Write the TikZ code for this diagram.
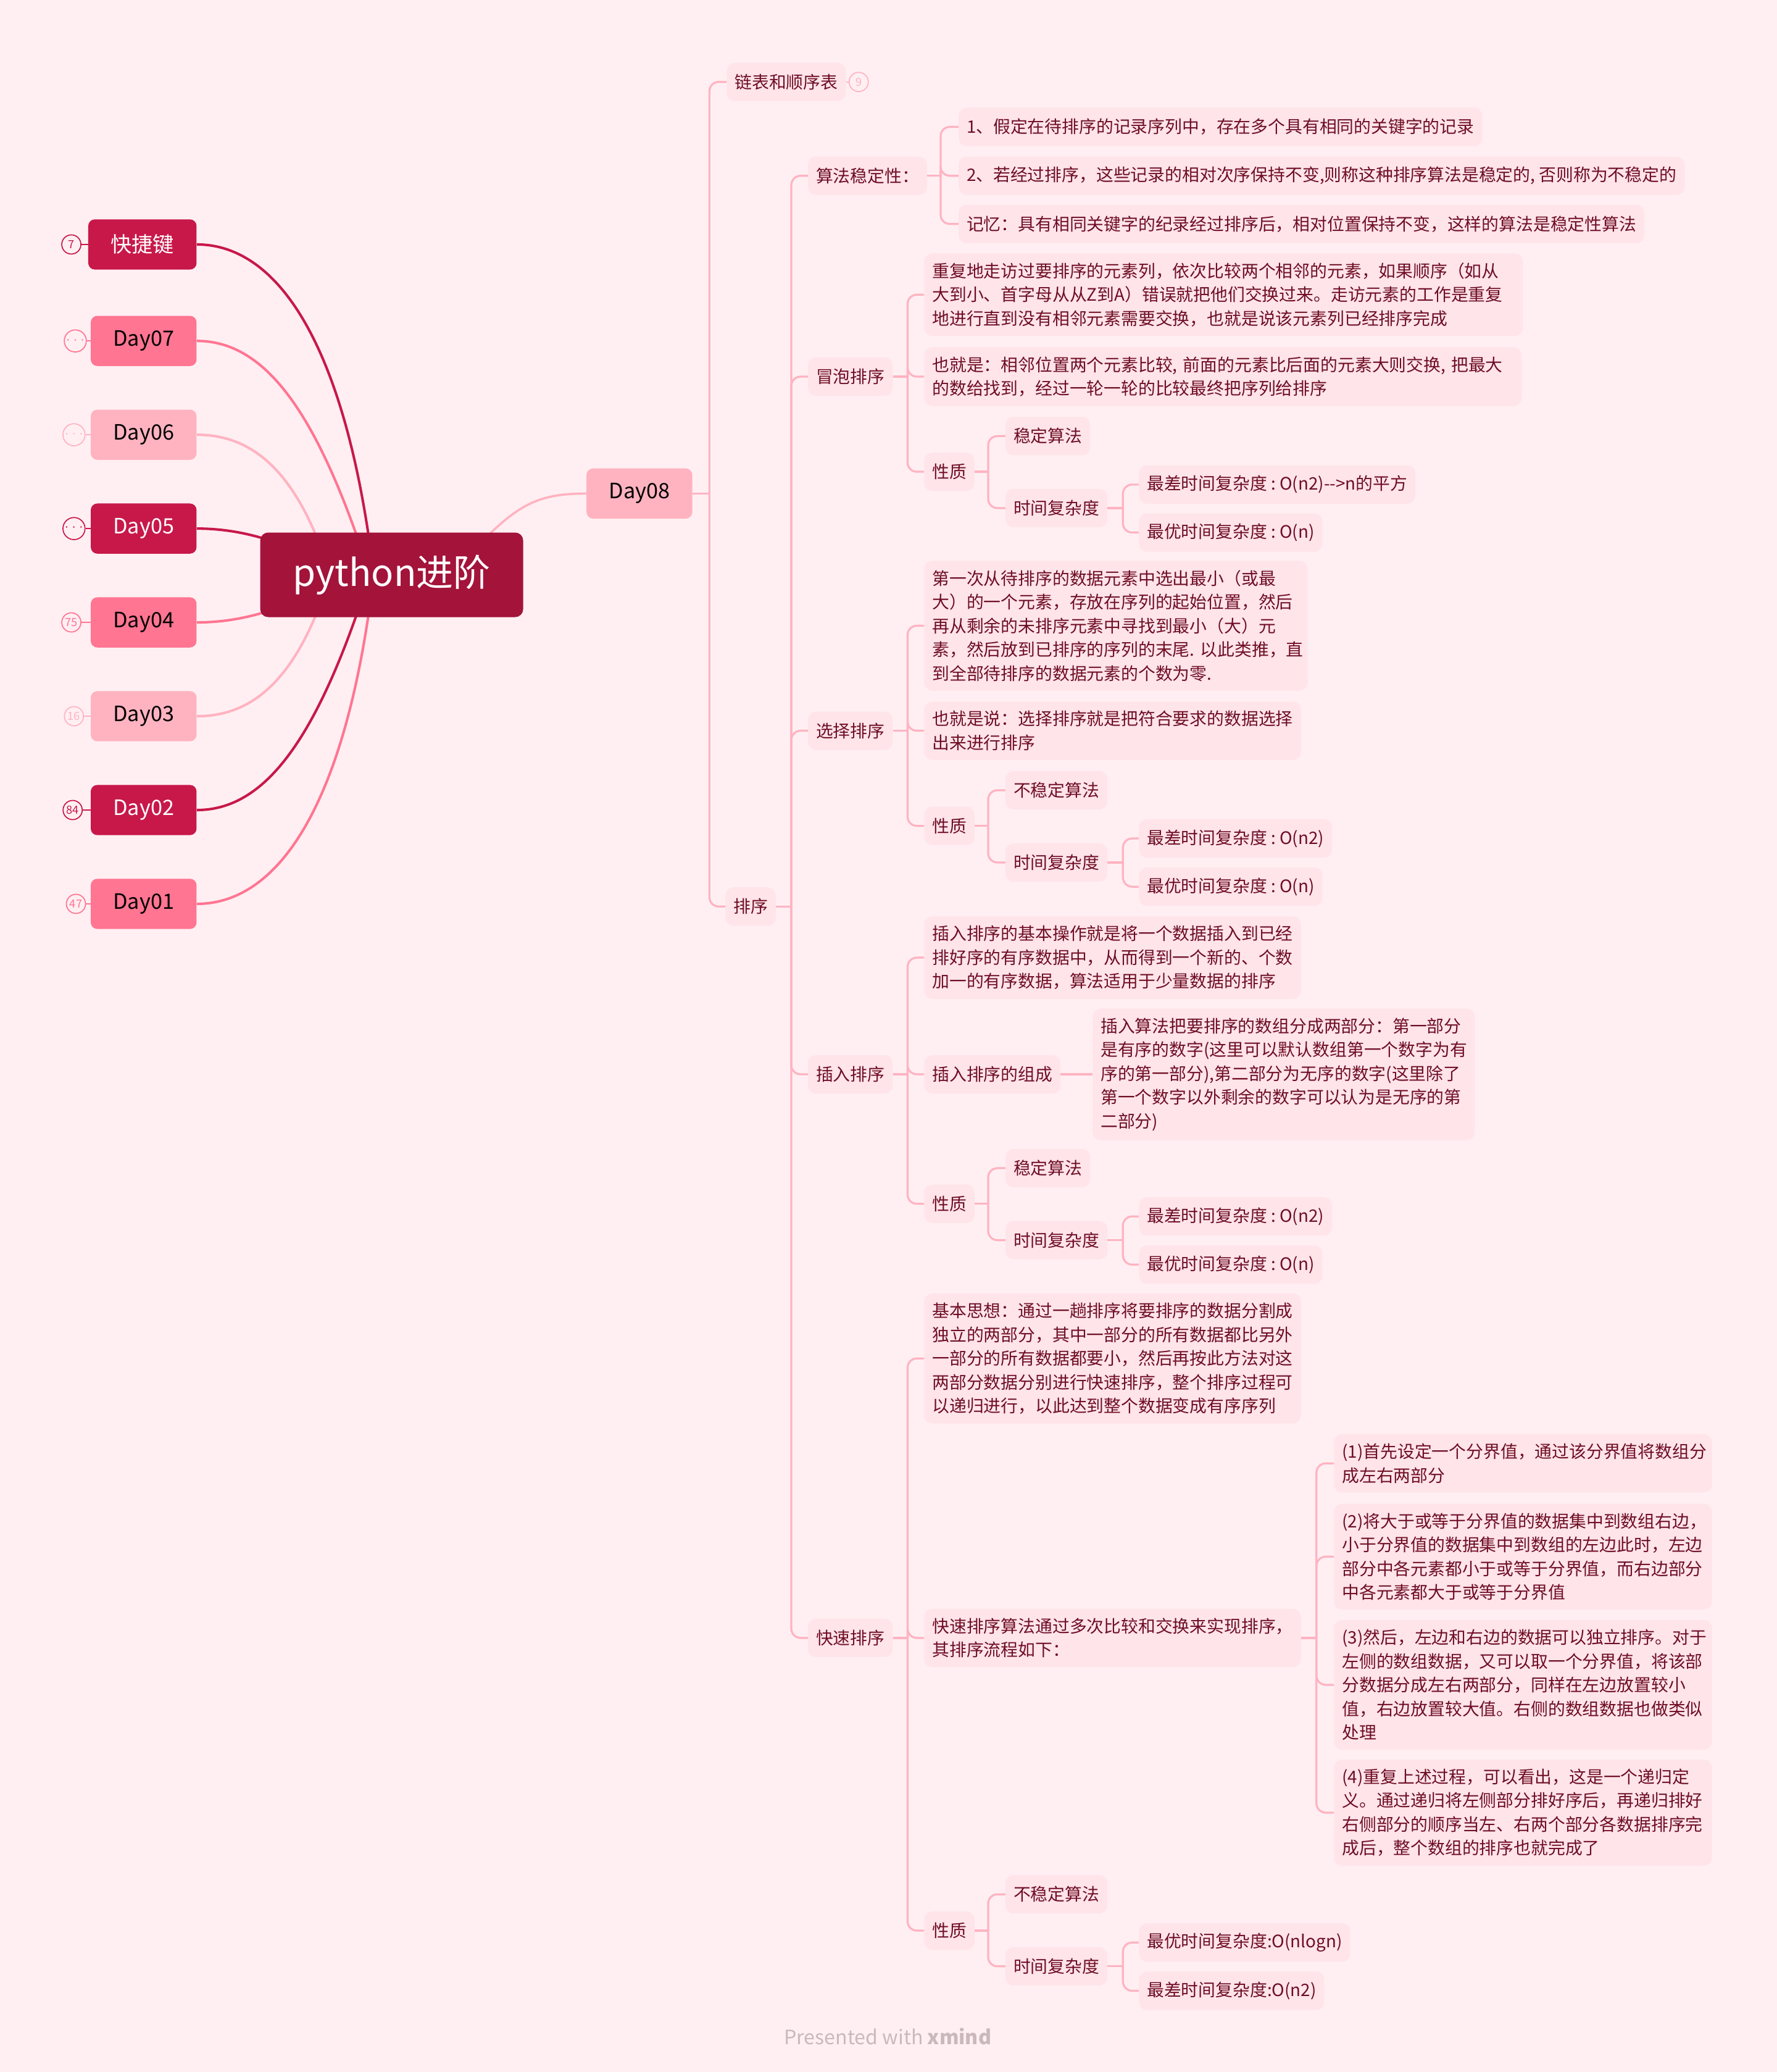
\documentclass[tikz,border=0pt]{standalone}
\usepackage{fontspec}
\setmainfont{Noto Sans CJK SC}
\usetikzlibrary{positioning}
\pgfdeclarelayer{background}
\pgfsetlayers{background,main}

\definecolor{bgpink}{HTML}{FFEFF2}
\definecolor{rootred}{HTML}{A3133A}
\definecolor{crimson}{HTML}{C8184A}
\definecolor{rose}{HTML}{FF7592}
\definecolor{blush}{HTML}{FFB3C1}
\definecolor{topicfill}{HTML}{FFE4EA}
\definecolor{ink}{HTML}{6E0E24}
\definecolor{footgray}{HTML}{CBB8BE}

\begin{document}
\begin{tikzpicture}[
        x=1pt, y=-1pt,
        font=\fontsize{13}{18}\selectfont,
        root/.style={rectangle, fill=rootred, rounded corners=6pt, text=white, font=\fontsize{28}{32}\selectfont, minimum width=199pt, minimum height=64pt},
        day/.style={rectangle, rounded corners=5pt, minimum height=38pt, inner xsep=17pt, font=\fontsize{16}{18}\selectfont},
        badge/.style={circle, line width=0.8pt, fill=bgpink, minimum size=14.5pt, inner sep=0pt, font=\fontsize{8.5}{9}\selectfont},
        more/.style={badge, font=\fontsize{5.5}{6}\selectfont},
        topic/.style={rectangle, fill=topicfill, rounded corners=6pt, text=ink, minimum height=29pt, inner xsep=6pt, inner ysep=7pt, anchor=west},
        para/.style={topic, align=left, text width=#1},
        link/.style={draw=blush, line width=1.5pt, rounded corners=7pt},
        limb/.style={line width=1.9pt},
    ]
    \useasboundingbox (0,0) rectangle (1345,1568);

    % left branches
    \node[day, fill=crimson, text=white, anchor=east] (kjj) at (149,185) {快捷键};
    \node[day, fill=rose, anchor=east] (day07) at (149,258) {Day07};
    \node[day, fill=blush, anchor=east] (day06) at (149,329) {Day06};
    \node[day, fill=crimson, text=white, anchor=east] (day05) at (149,400) {Day05};
    \node[day, fill=rose, anchor=east] (day04) at (149,471) {Day04};
    \node[day, fill=blush, anchor=east] (day03) at (149,542) {Day03};
    \node[day, fill=crimson, text=white, anchor=east] (day02) at (149,613) {Day02};
    \node[day, fill=rose, anchor=east] (day01) at (149,684) {Day01};

    \node[badge, draw=crimson, text=crimson] (n-kjj) at (54,185) {7};
    \node[more, draw=rose, text=rose] (n-day07) at (57,258) {···};
    \node[more, draw=blush, text=blush] (n-day06) at (56,329) {···};
    \node[more, draw=crimson, text=crimson] (n-day05) at (56,400) {···};
    \node[badge, draw=rose, text=rose] (n-day04) at (54,471) {75};
    \node[badge, draw=blush, text=blush] (n-day03) at (56,542) {16};
    \node[badge, draw=crimson, text=crimson] (n-day02) at (55,613) {84};
    \node[badge, draw=rose, text=rose] (n-day01) at (57.5,684) {47};

    \draw[crimson, line width=0.8pt] (n-kjj) -- (kjj);
    \draw[rose, line width=0.8pt] (n-day07) -- (day07);
    \draw[blush, line width=0.8pt] (n-day06) -- (day06);
    \draw[crimson, line width=0.8pt] (n-day05) -- (day05);
    \draw[rose, line width=0.8pt] (n-day04) -- (day04);
    \draw[blush, line width=0.8pt] (n-day03) -- (day03);
    \draw[crimson, line width=0.8pt] (n-day02) -- (day02);
    \draw[rose, line width=0.8pt] (n-day01) -- (day01);

    \node[root] (root) at (296.5,435) {python进阶};
    \node[day, fill=blush] (day08) at (484,373.5) {Day08};

    % Day08
    \node[topic] (lianbiao) at (550,62) {链表和顺序表};
    \node[badge, draw=blush, text=blush] (n-lianbiao) at (650,62) {9};
    \draw[blush, line width=0.8pt] (lianbiao) -- (n-lianbiao);
    \node[topic] (paixu) at (549,686) {排序};

    \node[topic] (wending) at (611.5,133) {算法稳定性：};
    \node[topic] (maopao) at (611.5,285) {冒泡排序};
    \node[topic] (xuanze) at (611.5,553) {选择排序};
    \node[topic] (charu) at (611.5,813) {插入排序};
    \node[topic] (kuaisu) at (611.5,1239.5) {快速排序};

    \node[topic] (wd1) at (725.5,96) {1、假定在待排序的记录序列中，存在多个具有相同的关键字的记录};
    \node[topic] (wd2) at (725.5,133) {2、若经过排序，这些记录的相对次序保持不变,则称这种排序算法是稳定的,~否则称为不稳定的};
    \node[topic] (wd3) at (725.5,169.5) {记忆：具有相同关键字的纪录经过排序后，相对位置保持不变，这样的算法是稳定性算法};

    % bubble sort
    \node[para=441pt] (mp1) at (699.5,223) {重复地走访过要排序的元素列，依次比较两个相邻的元素，如果顺序（如从\\大到小、首字母从从Z到A）错误就把他们交换过来。走访元素的工作是重复\\地进行直到没有相邻元素需要交换，也就是说该元素列已经排序完成};
    \node[para=440pt] (mp2) at (699.5,285) {也就是：相邻位置两个元素比较,~前面的元素比后面的元素大则交换,~把最大\\的数给找到，经过一轮一轮的比较最终把序列给排序};
    \node[topic] (mpxz) at (699.5,357) {性质};
    \node[topic] (mpwd) at (761,330) {稳定算法};
    \node[topic] (mpsj) at (761,384.5) {时间复杂度};
    \node[topic] (mpzc) at (862,366.7) {最差时间复杂度~:~O(n2)-{}->n的平方};
    \node[topic] (mpzy) at (862,403) {最优时间复杂度~:~O(n)};

    % selection sort
    \node[para=278pt] (xz1) at (699.5,473.5) {第一次从待排序的数据元素中选出最小（或最\\大）的一个元素，存放在序列的起始位置，然后\\再从剩余的未排序元素中寻找到最小（大）元\\素，然后放到已排序的序列的末尾.~以此类推，直\\到全部待排序的数据元素的个数为零.};
    \node[para=273pt] (xz2) at (699.5,553) {也就是说：选择排序就是把符合要求的数据选择\\出来进行排序};
    \node[topic] (xzxz) at (699.5,625) {性质};
    \node[topic] (xzwd) at (761,598) {不稳定算法};
    \node[topic] (xzsj) at (761,652.7) {时间复杂度};
    \node[topic] (xzzc) at (862,634.5) {最差时间复杂度~:~O(n2)};
    \node[topic] (xzzy) at (862,671) {最优时间复杂度~:~O(n)};

    % insertion sort
    \node[para=273pt] (cr1) at (699.5,724.7) {插入排序的基本操作就是将一个数据插入到已经\\排好序的有序数据中，从而得到一个新的、个数\\加一的有序数据，算法适用于少量数据的排序};
    \node[topic] (crzc) at (699.5,813) {插入排序的组成};
    \node[para=277pt] (crzc1) at (827,813) {插入算法把要排序的数组分成两部分：第一部分\\是有序的数字(这里可以默认数组第一个数字为有\\序的第一部分),第二部分为无序的数字(这里除了\\第一个数字以外剩余的数字可以认为是无序的第\\二部分)};
    \node[topic] (crxz) at (699.5,911) {性质};
    \node[topic] (crwd) at (761,884) {稳定算法};
    \node[topic] (crsj) at (761,938.5) {时间复杂度};
    \node[topic] (crzch) at (862,920.5) {最差时间复杂度~:~O(n2)};
    \node[topic] (crzy) at (862,957) {最优时间复杂度~:~O(n)};

    % quick sort
    \node[para=273pt] (ks1) at (699.5,1028) {基本思想：通过一趟排序将要排序的数据分割成\\独立的两部分，其中一部分的所有数据都比另外\\一部分的所有数据都要小，然后再按此方法对这\\两部分数据分别进行快速排序，整个排序过程可\\以递归进行，以此达到整个数据变成有序序列};
    \node[para=273pt] (ks2) at (699.5,1239.5) {快速排序算法通过多次比较和交换来实现排序，\\其排序流程如下：};
    \node[para=274pt] (lc1) at (1009.7,1107.4) {(1)首先设定一个分界值，通过该分界值将数组分\\成左右两部分};
    \node[para=274pt] (lc2) at (1009.7,1178) {(2)将大于或等于分界值的数据集中到数组右边，\\小于分界值的数据集中到数组的左边此时，左边\\部分中各元素都小于或等于分界值，而右边部分\\中各元素都大于或等于分界值};
    \node[para=274pt] (lc3) at (1009.7,1275) {(3)然后，左边和右边的数据可以独立排序。对于\\左侧的数组数据，又可以取一个分界值，将该部\\分数据分成左右两部分，同样在左边放置较小\\值，右边放置较大值。右侧的数组数据也做类似\\处理};
    \node[para=274pt] (lc4) at (1009.7,1371.7) {(4)重复上述过程，可以看出，这是一个递归定\\义。通过递归将左侧部分排好序后，再递归排好\\右侧部分的顺序当左、右两个部分各数据排序完\\成后，整个数组的排序也就完成了};
    \node[topic] (ksxz) at (699.5,1461) {性质};
    \node[topic] (kswd) at (761,1433.5) {不稳定算法};
    \node[topic] (kssj) at (761,1488) {时间复杂度};
    \node[topic] (kszy) at (862,1470) {最优时间复杂度:O(nlogn)};
    \node[topic] (kszc) at (862,1506.5) {最差时间复杂度:O(n2)};

    \node[text=footgray, font=\fontsize{15}{18}\selectfont] (credit) at (672,1541) {Presented with \textbf{xmind}};

    % branch lines
    \coordinate (j-day08) at (537,373.5);
    \coordinate (j-paixu) at (599,686);
    \coordinate (j-wending) at (712,133);
    \coordinate (j-maopao) at (687,285);
    \coordinate (j-mpxz) at (748,357);
    \coordinate (j-mpsj) at (850,384.5);
    \coordinate (j-xuanze) at (687,553);
    \coordinate (j-xzxz) at (748,625);
    \coordinate (j-xzsj) at (850,652.7);
    \coordinate (j-charu) at (687,813);
    \coordinate (j-crxz) at (748,911);
    \coordinate (j-crsj) at (850,938.5);
    \coordinate (j-kuaisu) at (687,1239.5);
    \coordinate (j-ks2) at (996.5,1239.5);
    \coordinate (j-ksxz) at (748,1461);
    \coordinate (j-kssj) at (850,1488);

    \draw[link] (day08.east) -- (j-day08);
    \draw[link] (j-day08) |- (lianbiao.west);
    \draw[link] (j-day08) |- (paixu.west);

    \draw[link] (paixu.east) -- (j-paixu);
    \draw[link] (j-paixu) |- (wending.west);
    \draw[link] (j-paixu) |- (maopao.west);
    \draw[link] (j-paixu) |- (xuanze.west);
    \draw[link] (j-paixu) |- (charu.west);
    \draw[link] (j-paixu) |- (kuaisu.west);

    \draw[link] (wending.east) -- (j-wending);
    \draw[link] (j-wending) |- (wd1.west);
    \draw[link] (j-wending) |- (wd2.west);
    \draw[link] (j-wending) |- (wd3.west);

    \draw[link] (maopao.east) -- (j-maopao);
    \draw[link] (j-maopao) |- (mp1.west);
    \draw[link] (j-maopao) |- (mp2.west);
    \draw[link] (j-maopao) |- (mpxz.west);
    \draw[link] (mpxz.east) -- (j-mpxz);
    \draw[link] (j-mpxz) |- (mpwd.west);
    \draw[link] (j-mpxz) |- (mpsj.west);
    \draw[link] (mpsj.east) -- (j-mpsj);
    \draw[link] (j-mpsj) |- (mpzc.west);
    \draw[link] (j-mpsj) |- (mpzy.west);

    \draw[link] (xuanze.east) -- (j-xuanze);
    \draw[link] (j-xuanze) |- (xz1.west);
    \draw[link] (j-xuanze) |- (xz2.west);
    \draw[link] (j-xuanze) |- (xzxz.west);
    \draw[link] (xzxz.east) -- (j-xzxz);
    \draw[link] (j-xzxz) |- (xzwd.west);
    \draw[link] (j-xzxz) |- (xzsj.west);
    \draw[link] (xzsj.east) -- (j-xzsj);
    \draw[link] (j-xzsj) |- (xzzc.west);
    \draw[link] (j-xzsj) |- (xzzy.west);

    \draw[link] (charu.east) -- (j-charu);
    \draw[link] (j-charu) |- (cr1.west);
    \draw[link] (j-charu) |- (crzc.west);
    \draw[link] (j-charu) |- (crxz.west);
    \draw[link] (crzc.east) -- (crzc1.west);
    \draw[link] (crxz.east) -- (j-crxz);
    \draw[link] (j-crxz) |- (crwd.west);
    \draw[link] (j-crxz) |- (crsj.west);
    \draw[link] (crsj.east) -- (j-crsj);
    \draw[link] (j-crsj) |- (crzch.west);
    \draw[link] (j-crsj) |- (crzy.west);

    \draw[link] (kuaisu.east) -- (j-kuaisu);
    \draw[link] (j-kuaisu) |- (ks1.west);
    \draw[link] (j-kuaisu) |- (ks2.west);
    \draw[link] (j-kuaisu) |- (ksxz.west);
    \draw[link] (ks2.east) -- (j-ks2);
    \draw[link] (j-ks2) |- (lc1.west);
    \draw[link] (j-ks2) |- (lc2.west);
    \draw[link] (j-ks2) |- (lc3.west);
    \draw[link] (j-ks2) |- (lc4.west);
    \draw[link] (ksxz.east) -- (j-ksxz);
    \draw[link] (j-ksxz) |- (kswd.west);
    \draw[link] (j-ksxz) |- (kssj.west);
    \draw[link] (kssj.east) -- (j-kssj);
    \draw[link] (j-kssj) |- (kszy.west);
    \draw[link] (j-kssj) |- (kszc.west);

    % curves behind the root
    \begin{pgfonlayer}{background}
        \fill[bgpink] (0,0) rectangle (1345,1568);
        \draw[limb, crimson] (kjj.east) .. controls +(61,0) and (262,260) .. ([xshift=-13.5pt]root.center);
        \draw[limb, rose] (day07.east) .. controls +(51,0) and (240,310) .. ([xshift=-16.5pt]root.center);
        \draw[limb, blush] (day06.east) .. controls +(41,0) and (225,355) .. ([xshift=-46.5pt]root.center);
        \draw[limb, crimson] (day05.east) .. controls +(31,0) and (210,408) .. ([xshift=-46.5pt,yshift=7pt]root.center);
        \draw[limb, rose] (day04.east) .. controls +(31,0) and (210,463) .. ([xshift=-46.5pt,yshift=-8pt]root.center);
        \draw[limb, blush] (day03.east) .. controls +(41,0) and (225,516) .. ([xshift=-46.5pt]root.center);
        \draw[limb, crimson] (day02.east) .. controls +(51,0) and (240,561) .. ([xshift=-16.5pt]root.center);
        \draw[limb, rose] (day01.east) .. controls +(61,0) and (262,611) .. ([xshift=-13.5pt]root.center);
        \draw[blush, line width=1.7pt] (day08.west) .. controls +(-39,0) and (390,383) .. ([xshift=58.5pt,yshift=15pt]root.center);
    \end{pgfonlayer}
\end{tikzpicture}
\end{document}
